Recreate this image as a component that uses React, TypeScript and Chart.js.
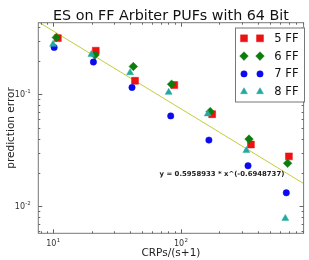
import React, { useEffect, useRef } from 'react';
import { Chart, registerables } from 'chart.js';
import { drawPoint } from 'chart.js/helpers';

Chart.register(...registerables);

const TITLE = 'ES on FF Arbiter PUFs with 64 Bit';
const X_TITLE = 'CRPs/(s+1)';
const Y_TITLE = 'prediction error';

const SERIES_LABELS = ['5 FF', '6 FF', '7 FF', '8 FF'];

// training-set size per flip-flop count
const X_5FF = [10.9, 21.6, 43.8, 88.9, 176, 354, 702];
const X_6FF = [10.6, 21.3, 42.5, 84.7, 170, 342, 686];
const X_7FF = [10.2, 20.7, 41.5, 83.4, 166, 336, 670];
const X_8FF = [10.0, 19.95, 40.1, 80.4, 162.5, 326, 658];

// prediction error per flip-flop count
const Y_5FF = [0.317, 0.245, 0.132, 0.121, 0.0664, 0.0356, 0.0279];
const Y_6FF = [0.321, 0.224, 0.177, 0.123, 0.07, 0.0398, 0.0242];
const Y_7FF = [0.262, 0.194, 0.115, 0.0641, 0.039, 0.023, 0.0132];
const Y_8FF = [0.279, 0.227, 0.156, 0.104, 0.0668, 0.0315, 0.0078];

// power-law fit; its x is measured in units of FIT_X_UNIT
const FIT_A = 0.5958933;
const FIT_B = -0.6948737;
const FIT_X_UNIT = 5;
const FIT_LABEL = 'y = 0.5958933 * x^(-0.6948737)';
const FIT_LABEL_AT = { x: 68.2, y: 0.0192 };

const X_RANGE = [7.665, 915];
const Y_RANGE = [0.00574, 0.4355];
const X_MAJOR = [10, 100];
const X_MAJOR_EXP = ['1', '2'];
const Y_MAJOR = [0.1, 0.01];
const Y_MAJOR_EXP = ['-1', '-2'];

const FONT = '"DejaVu Sans", "Liberation Sans", sans-serif';

const MARKERS = [
  { color: '#ee1111', pointStyle: 'rect', radius: 4.9 },
  { color: '#0a7d0a', pointStyle: 'rectRot', radius: 4.3 },
  { color: '#0b0bee', pointStyle: 'circle', radius: 3.2 },
  { color: '#22aaa0', pointStyle: 'triangle', radius: 4.0 },
];

const fit = (x: number) => FIT_A * Math.pow(x / FIT_X_UNIT, FIT_B);

const pairs = (xs: number[], ys: number[]) => xs.map((x, i) => ({ x, y: ys[i] }));

function logTicks(min: number, max: number) {
  const major: number[] = [];
  const minor: number[] = [];
  for (let k = Math.floor(Math.log10(min)); k <= Math.ceil(Math.log10(max)); k++) {
    for (let m = 1; m <= 9; m++) {
      const v = m * Math.pow(10, k);
      if (v < min || v > max) continue;
      (m === 1 ? major : minor).push(v);
    }
  }
  return { major, minor };
}

const decorations = {
  id: 'decorations',
  afterDraw(chart: any) {
    const { ctx, chartArea: a } = chart;
    const xs = chart.scales.x;
    const ys = chart.scales.y;
    ctx.save();

    // frame
    ctx.strokeStyle = '#777';
    ctx.lineWidth = 1;
    ctx.strokeRect(a.left, a.top, a.right - a.left, a.bottom - a.top);

    // inward ticks on all four sides
    ctx.strokeStyle = '#666';
    ctx.lineWidth = 1;
    const xt = logTicks(X_RANGE[0], X_RANGE[1]);
    const yt = logTicks(Y_RANGE[0], Y_RANGE[1]);
    const tickX = (v: number, len: number) => {
      const p = Math.round(xs.getPixelForValue(v)) + 0.5;
      ctx.beginPath();
      ctx.moveTo(p, a.bottom); ctx.lineTo(p, a.bottom - len);
      ctx.moveTo(p, a.top); ctx.lineTo(p, a.top + len);
      ctx.stroke();
    };
    const tickY = (v: number, len: number) => {
      const p = Math.round(ys.getPixelForValue(v)) + 0.5;
      ctx.beginPath();
      ctx.moveTo(a.left, p); ctx.lineTo(a.left + len, p);
      ctx.moveTo(a.right, p); ctx.lineTo(a.right - len, p);
      ctx.stroke();
    };
    xt.major.forEach((v) => tickX(v, 4));
    xt.minor.forEach((v) => tickX(v, 2));
    yt.major.forEach((v) => tickY(v, 4));
    yt.minor.forEach((v) => tickY(v, 2));

    // tick labels, 10 with a raised exponent
    ctx.fillStyle = '#333';
    ctx.textBaseline = 'alphabetic';
    const baseFont = `8px ${FONT}`;
    const expFont = `5.5px ${FONT}`;
    const measure = (base: string, exp: string) => {
      ctx.font = baseFont;
      const wb = ctx.measureText(base).width;
      ctx.font = expFont;
      const we = ctx.measureText(exp).width;
      return { wb, we };
    };
    const drawPow = (x0: number, y: number, exp: string) => {
      const { wb } = measure('10', exp);
      ctx.font = baseFont;
      ctx.textAlign = 'left';
      ctx.fillText('10', x0, y);
      ctx.font = expFont;
      ctx.fillText(exp, x0 + wb + 0.3, y - 4);
    };
    X_MAJOR.forEach((v, i) => {
      const { wb, we } = measure('10', X_MAJOR_EXP[i]);
      const cx = xs.getPixelForValue(v);
      drawPow(cx - (wb + we) / 2, a.bottom + 12.4, X_MAJOR_EXP[i]);
    });
    Y_MAJOR.forEach((v, i) => {
      const { wb, we } = measure('10', Y_MAJOR_EXP[i]);
      const cy = ys.getPixelForValue(v);
      drawPow(a.left - 7.5 - (wb + we + 0.3), cy + 3, Y_MAJOR_EXP[i]);
    });

    // axis titles
    ctx.fillStyle = '#222';
    ctx.font = `10.5px ${FONT}`;
    ctx.textAlign = 'center';
    ctx.textBaseline = 'middle';
    ctx.fillText(X_TITLE, (a.left + a.right) / 2, 253);
    ctx.save();
    ctx.translate(11, (a.top + a.bottom) / 2);
    ctx.rotate(-Math.PI / 2);
    ctx.fillText(Y_TITLE, 0, 0);
    ctx.restore();

    // chart title
    ctx.fillStyle = '#111';
    ctx.font = `14.3px ${FONT}`;
    ctx.textBaseline = 'alphabetic';
    ctx.fillText(TITLE, (a.left + a.right) / 2, 20);

    // fit annotation
    ctx.fillStyle = '#222';
    ctx.font = `bold 6.9px ${FONT}`;
    ctx.textAlign = 'left';
    ctx.textBaseline = 'middle';
    ctx.fillText(FIT_LABEL, xs.getPixelForValue(FIT_LABEL_AT.x), ys.getPixelForValue(FIT_LABEL_AT.y));

    // legend with two markers per entry
    const lx = 235, ly = 27.5, lw = 69, lh = 74;
    ctx.fillStyle = '#fff';
    ctx.fillRect(lx, ly, lw, lh);
    ctx.strokeStyle = '#777';
    ctx.lineWidth = 1;
    ctx.strokeRect(lx + 0.5, ly + 0.5, lw, lh);
    ctx.font = `11.5px ${FONT}`;
    ctx.textBaseline = 'middle';
    SERIES_LABELS.forEach((label, i) => {
      const rowY = 38.3 + i * 17.8;
      const m = MARKERS[i];
      ctx.fillStyle = m.color;
      ctx.strokeStyle = m.color;
      ctx.lineWidth = 0.5;
      [244, 260].forEach((mx) => {
        drawPoint(ctx, { pointStyle: m.pointStyle, radius: m.radius, rotation: 0, borderWidth: 0.5 }, mx, rowY);
      });
      ctx.fillStyle = '#111';
      ctx.fillText(label, 274.3, rowY + 0.5);
    });

    ctx.restore();
  },
};

export default function App() {
  const ref = useRef<HTMLCanvasElement>(null);

  useEffect(() => {
    if (!ref.current) return;
    const seriesX = [X_5FF, X_6FF, X_7FF, X_8FF];
    const seriesY = [Y_5FF, Y_6FF, Y_7FF, Y_8FF];
    const pointSets = SERIES_LABELS.map((label, i) => ({
      label,
      data: pairs(seriesX[i], seriesY[i]),
      pointStyle: MARKERS[i].pointStyle,
      pointRadius: MARKERS[i].radius,
      backgroundColor: MARKERS[i].color,
      borderColor: MARKERS[i].color,
      borderWidth: 0.5,
      showLine: false,
      order: SERIES_LABELS.length - i,
    }));
    const fitSet = {
      label: 'fit',
      data: [
        { x: X_RANGE[0], y: fit(X_RANGE[0]) },
        { x: X_RANGE[1], y: fit(X_RANGE[1]) },
      ],
      showLine: true,
      borderColor: '#c4cc3a',
      borderWidth: 1,
      pointRadius: 0,
      order: 10,
    };
    const chart = new Chart(ref.current, {
      type: 'scatter',
      data: { datasets: [fitSet, ...pointSets] as any },
      options: {
        animation: false,
        responsive: false,
        devicePixelRatio: 1,
        events: [],
        layout: { padding: { top: 22.7, right: 0.7, left: 0, bottom: 0 } },
        plugins: {
          legend: { display: false },
          title: { display: false },
          tooltip: { enabled: false },
        },
        scales: {
          x: {
            type: 'logarithmic',
            min: X_RANGE[0],
            max: X_RANGE[1],
            ticks: { display: false },
            grid: { display: false },
            border: { display: false },
            afterFit: (s: any) => { s.height = 26.7; },
          },
          y: {
            type: 'logarithmic',
            min: Y_RANGE[0],
            max: Y_RANGE[1],
            ticks: { display: false },
            grid: { display: false },
            border: { display: false },
            afterFit: (s: any) => { s.width = 38.3; },
          },
        },
      } as any,
      plugins: [decorations],
    });
    return () => chart.destroy();
  }, []);

  return (
    <div style={{ position: 'fixed', left: 0, top: 0, width: 309, height: 260, background: '#fff' }}>
      <canvas ref={ref} width={309} height={260} style={{ width: 309, height: 260, display: 'block' }} />
    </div>
  );
}
